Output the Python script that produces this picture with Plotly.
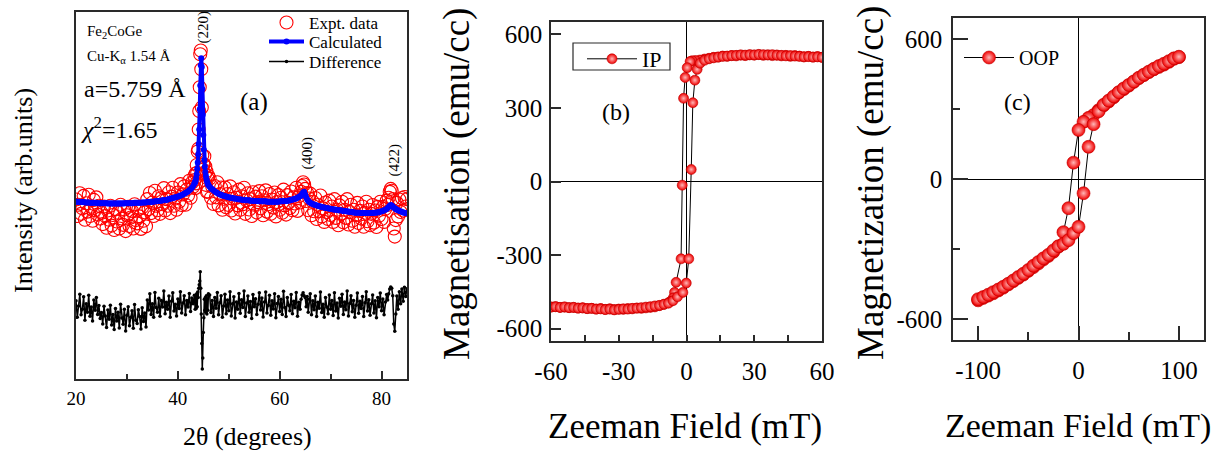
import numpy as np
import plotly.graph_objects as go

# ---------------- (a) XRD / Rietveld refinement of Fe2CoGe ----------------
# 2-theta grid: 0.25 deg steps, finer steps through the (220), (400), (422) reflections
two_theta = np.round(np.concatenate([
    np.arange(20.0, 43.26, 0.25),
    np.arange(43.3, 46.01, 0.1),
    np.arange(46.25, 64.01, 0.25),
    np.arange(64.2, 65.81, 0.2),
    np.arange(66.0, 81.01, 0.25),
    np.arange(81.2, 82.81, 0.2),
    np.arange(83.0, 85.01, 0.25),
]), 2)

# calculated (fitted) profile
xrd_calc = [
    483, 483, 483, 482, 482, 482, 482, 481,
    481, 481, 481, 480, 480, 480, 480, 480,
    480, 479, 479, 479, 479, 479, 479, 479,
    479, 478, 478, 478, 478, 478, 478, 478,
    478, 478, 478, 478, 478, 478, 479, 479,
    479, 479, 479, 479, 479, 479, 480, 480,
    480, 480, 480, 480, 481, 481, 481, 481,
    482, 482, 482, 483, 483, 483, 484, 484,
    485, 485, 486, 486, 487, 487, 488, 488,
    489, 490, 491, 492, 493, 494, 495, 496,
    497, 498, 500, 501, 503, 505, 507, 509,
    511, 514, 517, 521, 526, 532,
    534, 537, 540, 548, 558, 572, 590, 612, 640, 680,
    735, 800, 855, 874, 850, 790, 720, 665, 625, 597,
    578, 564, 554, 546, 540, 535, 531, 528,
    524, 520, 517, 514, 511, 509, 507, 505,
    503, 502, 500, 499, 498, 497, 496, 495,
    494, 494, 493, 492, 492, 491, 490, 490,
    489, 489, 488, 488, 487, 487, 487, 487,
    486, 486, 486, 485, 485, 485, 485, 484,
    484, 484, 484, 484, 484, 483, 483, 483,
    483, 483, 483, 483, 483, 483, 483, 484,
    484, 484, 484, 485, 485, 486, 486, 487,
    488, 489, 490, 491, 492, 494, 496, 498,
    500, 504, 508, 510, 503, 495, 489, 485, 482,
    480, 478, 477, 475, 474, 473, 472, 471,
    470, 469, 468, 467, 466, 466, 465, 464,
    464, 463, 462, 462, 461, 461, 460, 460,
    459, 459, 458, 458, 457, 457, 456, 456,
    455, 455, 454, 454, 453, 453, 453, 453,
    452, 452, 452, 452, 452, 452, 452, 452,
    452, 452, 453, 453, 454, 454, 455, 456,
    457, 458, 460, 461,
    463,
    466, 469, 472, 474, 473, 470, 467, 465, 463,
    461, 460, 458, 457, 455, 454, 453, 452, 451,
]

# difference curve (observed - calculated), drawn shifted down by DIFF_OFFSET
DIFF_OFFSET = 207
xrd_diff = [
    213, 168, 199, 231, 175, 190, 224, 160,
    205, 182, 228, 171, 196, 158, 215, 187,
    222, 176, 200, 165, 181, 150, 198, 172,
    140, 188, 163, 201, 147, 176, 135, 192,
    158, 182, 139, 204, 166, 149, 190, 131,
    174, 197, 145, 168, 186, 138, 203, 160,
    151, 189, 170, 136, 194, 157, 180, 142,
    215, 188, 232, 176, 205, 168, 236, 195,
    182, 220, 171, 214, 196, 240, 178, 209,
    190, 226, 168, 212, 235, 185, 204, 172,
    218, 192, 238, 180, 207, 227, 175, 214,
    196, 233, 184, 221, 205, 228,
    215, 190, 227, 192, 232, 197, 237, 222, 247, 257,
    267, 292, 247, 177, 97, 27, 57, 127, 167, 217,
    187, 222, 182, 227, 177, 219, 187, 232,
    229, 181, 214, 170, 222, 193, 236, 175,
    208, 227, 168, 199, 231, 178, 215, 186,
    238, 172, 205, 224, 166, 210, 190, 233,
    179, 216, 195, 240, 170, 207, 226, 182,
    211, 165, 230, 197, 219, 176, 204, 235,
    188, 221, 169, 210, 237, 180, 200, 228,
    174, 213, 191, 232, 167, 206, 225, 184,
    217, 176, 239, 195, 170, 222, 201, 186,
    230, 178, 212, 194, 236, 171, 209, 190,
    217, 229, 235, 227, 222, 197, 225, 182, 217,
    232, 175, 213, 189, 226, 170, 209, 193,
    237, 181, 204, 168, 222, 196, 178, 229,
    190, 214, 173, 235, 185, 207, 166, 220,
    198, 231, 176, 210, 189, 240, 172, 206,
    227, 183, 214, 168, 201, 234, 179, 212,
    192, 225, 170, 208, 238, 185, 216, 174,
    205, 229, 180, 213, 167, 222, 197, 234,
    186, 218, 175, 210,
    230,
    215, 232, 245, 251, 247, 227, 150, 130, 177,
    226, 190, 238, 205, 245, 212, 250, 225, 246,
]

# observed counts = calculated + (difference - offset)
xrd_obs = np.array(xrd_calc) + np.array(xrd_diff) - DIFF_OFFSET

# ---------------- (b) in-plane M-H loop ----------------
ip_h_down = [60, 58, 56, 54, 52, 50, 48, 46, 44, 42, 40, 38, 36, 34, 32, 30, 28, 26, 24, 22,
             20, 18, 16, 14, 12, 10, 8, 6, 4, 2.5, 1.6, 0.3, -0.6, -1.3, -1.9, -2.4, -4.6, -5.3,
             -5.8, -7, -8, -10, -12, -14, -16, -18, -20, -22, -24, -26, -28, -30, -32, -34, -36,
             -38, -40, -42, -44, -46, -48, -50, -52, -54, -56, -58, -60]
ip_m_down = [506, 509, 507, 510, 508, 511, 513, 510, 514, 512, 515, 513, 516, 514, 517, 515, 516,
             513, 515, 512, 513, 510, 511, 507, 506, 502, 499, 495, 493, 492, 489, 464, 424, 339,
             -15, -315, -411, -452, -474, -488, -494, -501, -506, -511, -513, -515, -517, -516,
             -519, -518, -521, -520, -522, -519, -521, -518, -520, -517, -518, -515, -516, -513,
             -514, -512, -513, -510, -511]
ip_h_up = [-60, -58, -56, -54, -52, -50, -48, -46, -44, -42, -40, -38, -36, -34, -32, -30, -28,
           -26, -24, -22, -20, -18, -16, -14, -12, -10, -8, -6, -4, -1.6, -0.1, 1.0, 2.1, 2.8,
           3.7, 4.7, 6, 8, 10, 12, 14, 16, 18, 20, 22, 24, 26, 28, 30, 32, 34, 36, 38, 40, 42,
           44, 46, 48, 50, 52, 54, 56, 58, 60]
ip_m_up = [-512, -510, -513, -511, -514, -513, -516, -515, -518, -517, -520, -519, -522, -520,
           -523, -521, -519, -520, -517, -516, -514, -512, -510, -507, -505, -500, -496, -486,
           -470, -452, -414, -315, 49, 321, 413, 457, 482, 494, 500, 504, 507, 510, 511, 513,
           514, 516, 515, 517, 516, 518, 517, 516, 517, 515, 514, 512, 513, 511, 510, 508, 509,
           507, 508, 506]

# ---------------- (c) out-of-plane M-H loop ----------------
oop_h_down = [100, 95, 90, 85, 80, 75, 70, 65, 60, 55, 50, 45, 40, 35, 30, 25, 20, 15, 10, 5, 0,
              -5, -10, -15, -20, -25, -30, -35, -40, -45, -50, -55, -60, -65, -70, -75, -80, -85,
              -90, -95, -100]
oop_m_down = [522, 515, 502, 490, 480, 470, 458, 445, 432, 416, 400, 385, 370, 350, 332, 315, 295,
              274, 262, 245, 210, 70, -125, -228, -290, -312, -330, -345, -362, -378, -394, -410,
              -424, -438, -452, -466, -478, -490, -500, -510, -520]
oop_h_up = [-100, -95, -90, -85, -80, -75, -70, -65, -60, -55, -50, -45, -40, -35, -30, -25, -20,
            -15, -10, -5, 0, 5, 10, 15, 20, 25, 30, 35, 40, 45, 50, 55, 60, 65, 70, 75, 80, 85,
            90, 95, 100]
oop_m_up = [-515, -506, -496, -485, -474, -462, -449, -435, -420, -406, -390, -372, -356, -340,
            -325, -306, -288, -278, -262, -232, -205, -61, 138, 235, 290, 318, 336, 354, 372, 388,
            403, 418, 434, 447, 460, 472, 484, 494, 505, 517, 524]

# tick labels
xrd_ticks = [20, 40, 60, 80]
ip_field_ticks = [-60, -30, 0, 30, 60]
ip_m_ticks = [-600, -300, 0, 300, 600]
oop_field_ticks = [-100, 0, 100]
oop_m_ticks = [-600, 0, 600]


def hyphen_labels(vals):
    return [str(v) for v in vals]


W, H = 1227, 451
FONT = "Liberation Serif"
AXC = "#2a2a2a"


def px(xp):
    return xp / W


def py(yp):
    return 1 - yp / H


fig = go.Figure()

sphere = dict(symbol="circle", color="#f00000",
              gradient=dict(type="radial", color="#ffb8b8"),
              line=dict(color="#c00000", width=0.6))

fig.add_trace(go.Scatter(
    x=two_theta, y=xrd_obs, mode="markers", name="Expt. data",
    marker=dict(symbol="circle-open", size=13, color="#ff0000", line=dict(width=1.1)),
    xaxis="x", yaxis="y", legend="legend"))
fig.add_trace(go.Scatter(
    x=two_theta, y=xrd_calc, mode="lines+markers", name="Calculated",
    line=dict(color="#0000ff", width=4), marker=dict(size=6, color="#0000ff"),
    xaxis="x", yaxis="y", legend="legend4"))
fig.add_trace(go.Scatter(
    x=two_theta, y=xrd_diff, mode="lines+markers", name="Difference",
    line=dict(color="black", width=1.5), marker=dict(size=3.5, color="black"),
    xaxis="x", yaxis="y", legend="legend5"))

fig.add_trace(go.Scatter(
    x=ip_h_down + ip_h_up, y=ip_m_down + ip_m_up, mode="lines+markers", name="IP",
    line=dict(color="black", width=1), marker=dict(size=10, **sphere),
    xaxis="x2", yaxis="y2", legend="legend2"))
fig.add_trace(go.Scatter(
    x=oop_h_down + oop_h_up, y=oop_m_down + oop_m_up, mode="lines+markers", name="OOP",
    line=dict(color="black", width=1), marker=dict(size=13, **sphere),
    xaxis="x3", yaxis="y3", legend="legend3"))

axis_common = dict(showline=True, linecolor=AXC, linewidth=1.5, mirror=True, showgrid=False,
                   ticks="inside", tickcolor=AXC, tickwidth=1.5, automargin=False)


def tfont(size):
    return dict(family=FONT, size=size, color="black")


def legend_box(x, y, size, itemwidth):
    return dict(x=px(x), y=py(y), xanchor="left", yanchor="top",
                bgcolor="rgba(0,0,0,0)", borderwidth=0,
                font=tfont(size), itemwidth=itemwidth, tracegroupgap=0)


fig.update_layout(
    width=W, height=H, margin=dict(l=0, r=0, t=0, b=0, autoexpand=False),
    paper_bgcolor="white", plot_bgcolor="white",
    font=dict(family=FONT, color="black"),
    showlegend=True,
    xaxis=dict(domain=[px(76), px(407)], range=[20, 85], anchor="y",
               tickvals=xrd_ticks, ticktext=hyphen_labels(xrd_ticks), ticklen=8,
               minor=dict(dtick=10, tick0=0, ticks="inside", ticklen=5, tickcolor=AXC, tickwidth=1.5),
               tickfont=tfont(19), ticklabelstandoff=1, zeroline=False, **axis_common),
    yaxis=dict(domain=[py(379), py(12)], range=[0, 1000], anchor="x",
               showticklabels=False, zeroline=False,
               **{**axis_common, "ticks": ""}),
    xaxis2=dict(domain=[px(551), px(822)], range=[-60, 60], anchor="y2",
                tickvals=ip_field_ticks, ticktext=hyphen_labels(ip_field_ticks), ticklen=6,
                minor=dict(dtick=15, tick0=0, ticks="inside", ticklen=6, tickcolor=AXC, tickwidth=1.5),
                tickfont=tfont(25), ticklabelstandoff=7,
                zeroline=True, zerolinecolor="black", zerolinewidth=1.2, **axis_common),
    yaxis2=dict(domain=[py(341), py(22)], range=[-650, 650], anchor="x2",
                tickvals=ip_m_ticks, ticktext=hyphen_labels(ip_m_ticks), ticklen=10,
                tickfont=tfont(25), ticklabelstandoff=2,
                zeroline=True, zerolinecolor="black", zerolinewidth=1.2, **axis_common),
    xaxis3=dict(domain=[px(953), px(1204)], range=[-125, 125], anchor="y3",
                tickvals=oop_field_ticks, ticktext=hyphen_labels(oop_field_ticks), ticklen=14,
                minor=dict(dtick=50, tick0=0, ticks="inside", ticklen=8, tickcolor=AXC, tickwidth=1.5),
                tickfont=tfont(25), ticklabelstandoff=7,
                zeroline=True, zerolinecolor="black", zerolinewidth=1.2, **axis_common),
    yaxis3=dict(domain=[py(340), py(18)], range=[-690, 690], anchor="x3",
                tickvals=oop_m_ticks, ticktext=hyphen_labels(oop_m_ticks), ticklen=15,
                minor=dict(dtick=300, tick0=0, ticks="inside", ticklen=7, tickcolor=AXC, tickwidth=1.5),
                tickfont=tfont(25), ticklabelstandoff=4,
                zeroline=True, zerolinecolor="black", zerolinewidth=1.2, **axis_common),
    legend=legend_box(264, 5, 17, 35),
    legend4=legend_box(264, 24, 17, 35),
    legend5=legend_box(264, 44, 17, 35),
    legend2=legend_box(582, 38, 22, 50),
    legend3=legend_box(959, 38, 20, 50),
)

# frame around the IP legend entry
fig.add_shape(type="rect", xref="paper", yref="paper",
              x0=px(573), x1=px(670), y0=py(70), y1=py(43),
              line=dict(color=AXC, width=1.2), fillcolor="white", layer="above")


def note(text, x, y, size, xanchor="center", angle=0):
    fig.add_annotation(text=text, x=px(x), y=py(y), xref="paper", yref="paper",
                       xanchor=xanchor, yanchor="middle", showarrow=False, textangle=angle,
                       font=dict(family=FONT, size=size, color="black"))


# panel (a) labels
note("Fe<sub>2</sub>CoGe", 85, 32, 15, xanchor="left")
note("Cu-K<sub>α</sub> 1.54 Å", 85, 57, 15, xanchor="left")
note("a=5.759 Å", 82, 89, 24, xanchor="left")
note("<i>χ</i><sup>2</sup>=1.65", 79, 128, 24, xanchor="left")
note("(a)", 254, 102, 25)
note("(220)", 203.5, 27, 15, angle=-90)
note("(400)", 306.5, 153, 15, angle=-90)
note("(422)", 393.5, 160, 15, angle=-90)
note("Intensity (arb.units)", 23, 191, 26, angle=-90)
note("2θ (degrees)", 247, 436, 26)

# panel (b) labels
note("(b)", 616, 112, 24)
note("Magnetisation (emu/cc)", 457, 184, 37, angle=-90)
note("Zeeman Field (mT)", 685, 426, 35)

# panel (c) labels
note("(c)", 1017, 102, 24)
note("Magnetization (emu/cc)", 871, 183, 37, angle=-90)
note("Zeeman Field (mT)", 1078, 426, 34)

fig.write_html("out.html")
